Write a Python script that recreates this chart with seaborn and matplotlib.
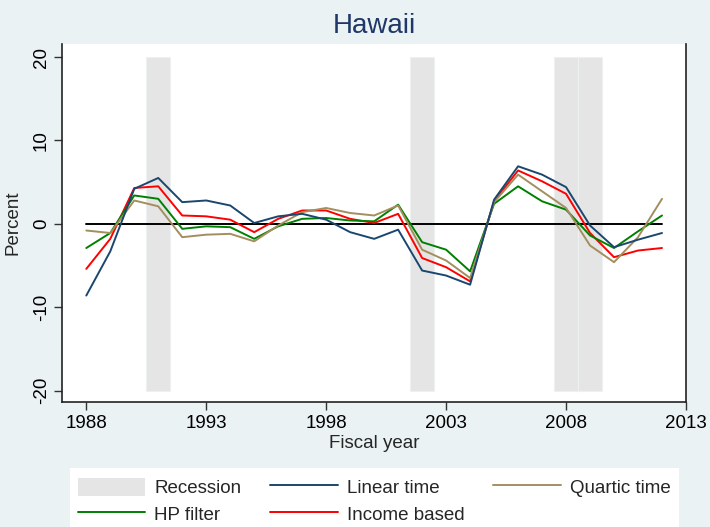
"""
Hawaii revenue gap estimates, fiscal years 1988-2012
"""

import numpy as np
import pandas as pd
import seaborn as sns
import matplotlib.pyplot as plt
from matplotlib.patches import Patch, Rectangle
from matplotlib.lines import Line2D

# data
years = list(range(1988, 2013))
linear_time = [-8.6, -3.3, 4.2, 5.5, 2.6, 2.8, 2.2, 0.1, 0.9, 1.2, 0.5, -1.0, -1.8,
               -0.7, -5.6, -6.2, -7.3, 2.9, 6.9, 5.9, 4.4, -0.2, -2.8, -1.9, -1.1]
quartic_time = [-0.8, -1.1, 2.8, 2.1, -1.6, -1.3, -1.2, -2.1, -0.2, 1.4, 1.9, 1.3, 1.0,
                2.2, -3.1, -4.4, -6.5, 2.6, 5.9, 3.9, 1.9, -2.6, -4.6, -1.6, 3.0]
hp_filter = [-2.9, -1.1, 3.4, 3.0, -0.6, -0.3, -0.4, -1.8, -0.3, 0.6, 0.7, 0.4, 0.3,
             2.3, -2.2, -3.1, -5.7, 2.4, 4.5, 2.7, 1.7, -1.4, -2.9, -0.9, 1.0]
income_based = [-5.4, -1.8, 4.3, 4.5, 1.0, 0.9, 0.5, -1.0, 0.6, 1.6, 1.6, 0.6, 0.1,
                1.2, -4.1, -5.2, -6.9, 2.7, 6.4, 5.1, 3.6, -1.1, -4.0, -3.2, -2.9]
recessions = [(1990.5, 1991.5), (2001.5, 2002.5), (2007.5, 2008.5), (2008.5, 2009.5)]

series_colors = {'Linear time': '#1A476F',
                 'Quartic time': '#A38F5E',
                 'HP filter': '#008000',
                 'Income based': '#FF0000'}
bg_color = '#EAF2F3'
band_color = '#E5E5E5'

df = pd.DataFrame({'year': years,
                   'Linear time': linear_time,
                   'Quartic time': quartic_time,
                   'HP filter': hp_filter,
                   'Income based': income_based})
long_df = df.melt(id_vars='year', var_name='method', value_name='pct')

sns.set_style('white')
plt.rcParams['font.family'] = ['Liberation Sans', 'DejaVu Sans']

fig = plt.figure(figsize=(7.1, 5.27), dpi=100, facecolor=bg_color)
ax = fig.add_axes([62.3 / 710, 1 - 402.3 / 527, (686 - 62.3) / 710, (402.3 - 43.7) / 527])
ax.set_facecolor('white')

for start, end in recessions:
    ax.fill_between([start, end], -20, 20, facecolor=band_color, edgecolor='#EDF1F1',
                    lw=0.8, zorder=1)

ax.plot([years[0], years[-1]], [0, 0], color='black', lw=1.4, zorder=2)

sns.lineplot(data=long_df, x='year', y='pct', hue='method', palette=series_colors,
             hue_order=['Income based', 'HP filter', 'Quartic time', 'Linear time'],
             lw=1.4, ax=ax, legend=False, zorder=3)

ax.set_xlim(1987, 2013)
ax.set_ylim(-21.4, 21.6)
ax.set_xticks(range(1988, 2014, 5))
ax.set_yticks([-20, -10, 0, 10, 20])
ax.set_yticklabels(['-20', '-10', '0', '10', '20'], rotation=90, va='center')
ax.tick_params(axis='both', labelsize=13.5, length=6, width=1, color='#333333',
               left=True, bottom=True, labelcolor='black')
ax.tick_params(axis='y', pad=3)
ax.set_xlabel('Fiscal year', fontsize=13.5, labelpad=2)
ax.set_ylabel('Percent', fontsize=13.5, labelpad=8)
ax.set_title('Hawaii', fontsize=20, color='#1F3868', pad=8)

for side in ['left', 'bottom', 'right']:
    ax.spines[side].set_color('#222222')
    ax.spines[side].set_linewidth(1.2)
ax.spines['top'].set_visible(False)

# white legend box running to the bottom edge
fig.patches.append(Rectangle((70 / 710, 0), 609 / 710, 59 / 527, transform=fig.transFigure,
                             facecolor='white', edgecolor='none', zorder=0))

# legend: column-major order gives the two-row layout
handles = [Patch(facecolor=band_color, edgecolor='none', label='Recession'),
           Line2D([], [], color=series_colors['HP filter'], lw=1.4, label='HP filter'),
           Line2D([], [], color=series_colors['Linear time'], lw=1.4, label='Linear time'),
           Line2D([], [], color=series_colors['Income based'], lw=1.4, label='Income based'),
           Line2D([], [], color=series_colors['Quartic time'], lw=1.4, label='Quartic time')]
leg = fig.legend(handles=handles, ncol=3, loc='upper left',
                 bbox_to_anchor=(70 / 710, 1 - 470 / 527),
                 fontsize=13.5, frameon=False, handlelength=3.6,
                 handleheight=1.15, handletextpad=0.5, borderpad=0.4, labelspacing=0.36,
                 columnspacing=1.52, borderaxespad=0)

fig.savefig('out.png', dpi=100, facecolor=bg_color)
